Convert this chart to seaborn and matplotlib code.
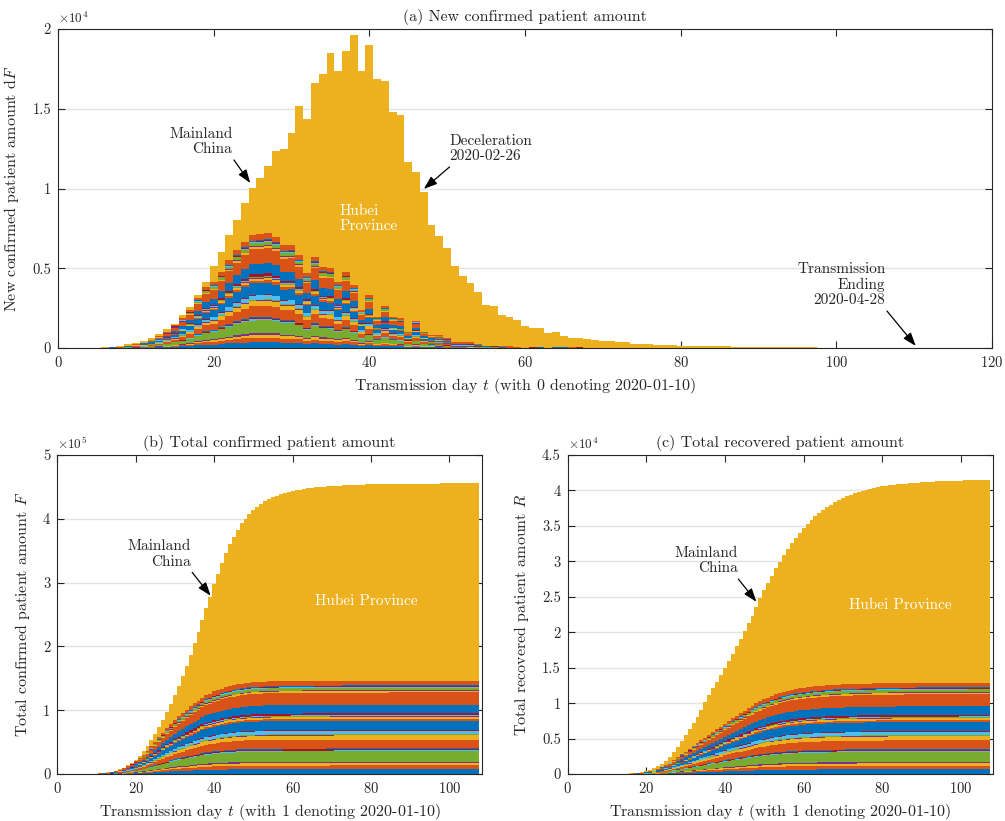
import numpy as np
import pandas as pd
import matplotlib
matplotlib.use("Agg")
import matplotlib.pyplot as plt
import seaborn as sns
from matplotlib.ticker import FixedLocator, FuncFormatter

# ---------------- data ----------------
# (a) daily new confirmed patients, days 0..110 (0 = 2020-01-10)
days_new = list(range(0, 111))
total_new = [0, 5, 8, 12, 18, 25, 40, 60, 125, 230,
             314, 460, 606, 878, 1170, 1526, 2048, 2592, 3344, 4117,
             5162, 6040, 7085, 8047, 9092, 10032, 10659, 11390, 12331, 12477,
             13480, 15194, 14379, 16615, 17200, 18496, 17347, 18600, 19646, 17347,
             18998, 16866, 16762, 14818, 14609, 11662, 11014, 9760, 7691, 7043,
             6270, 5162, 4493, 4075, 3511, 2675, 2612, 2090, 1944, 1735,
             1358, 1254, 1254, 940, 982, 773, 648, 648, 564, 480,
             418, 418, 355, 355, 272, 272, 272, 188, 188, 188,
             146, 146, 146, 146, 104, 104, 104, 80, 75, 70,
             65, 60, 55, 50, 45, 42, 38, 35, 32, 30,
             28, 25, 22, 20, 18, 15, 12, 10, 8, 5, 3]
others_new = [0, 4, 6, 9, 13, 18, 30, 45, 95, 180,
              260, 390, 520, 750, 1020, 1440, 1860, 2380, 3150, 3850,
              4150, 4790, 5500, 6140, 6670, 7100, 7120, 7200, 6980, 6430,
              6450, 5840, 4680, 5730, 5060, 5000, 4160, 4790, 3960, 2390,
              3300, 1970, 2620, 1960, 1870, 1010, 1720, 1000, 820, 790,
              600, 360, 360, 350, 230, 180, 150, 120, 100, 90,
              80, 70, 60, 55, 50, 45, 40, 35, 30, 28,
              25, 22, 20, 18, 15, 12, 10, 9, 8, 7,
              6, 5, 5, 4, 4, 3, 3, 2, 2, 2,
              1, 1, 1, 1, 1, 0, 0, 0, 0, 0,
              0, 0, 0, 0, 0, 0, 0, 0, 0, 0, 0]

# (b)/(c) days 1..107 (1 = 2020-01-10)
days_cum = list(range(1, 108))
total_rec = [0, 0, 0, 0, 0, 2, 3, 5, 8, 12,
             18, 25, 35, 50, 70, 100, 140, 200, 290, 420,
             600, 830, 1100, 1450, 1900, 2400, 3100, 3850, 4650, 5450,
             6300, 7150, 8080, 9100, 10100, 11130, 12080, 13020, 13960, 15000,
             16000, 17000, 18000, 19050, 20200, 21250, 22300, 23500, 24900, 26000,
             27000, 28000, 29000, 29950, 30900, 31800, 32600, 33350, 34050, 34700,
             35300, 35850, 36350, 36800, 37200, 37600, 37950, 38300, 38600, 38900,
             39150, 39400, 39600, 39800, 39950, 40100, 40230, 40350, 40460, 40560,
             40650, 40730, 40800, 40860, 40920, 40970, 41020, 41070, 41110, 41150,
             41190, 41220, 41250, 41280, 41300, 41320, 41340, 41360, 41380, 41400,
             41420, 41440, 41450, 41460, 41470, 41480, 41490]
others_rec = [0, 0, 0, 0, 0, 1, 2, 3, 5, 8,
              12, 17, 25, 35, 45, 65, 95, 140, 210, 310,
              430, 570, 750, 980, 1250, 1600, 2000, 2400, 2780, 3150,
              3550, 3950, 4350, 4750, 5100, 5500, 5900, 6300, 6700, 7100,
              7500, 7880, 8250, 8600, 8950, 9300, 9620, 9950, 10250, 10520,
              10780, 11020, 11230, 11420, 11600, 11760, 11890, 12000, 12100, 12180,
              12250, 12310, 12370, 12420, 12470, 12510, 12550, 12580, 12610, 12640,
              12660, 12680, 12700, 12720, 12740, 12755, 12770, 12785, 12800, 12810,
              12820, 12830, 12840, 12850, 12855, 12860, 12865, 12870, 12875, 12880,
              12882, 12884, 12886, 12888, 12890, 12892, 12894, 12895, 12896, 12897,
              12898, 12899, 12900, 12900, 12900, 12900, 12900]

# relative sizes of the 30 other provinces (bottom -> top of the stack)
province_share = [6.5, 5.0, 3.2, 1.8, 14.0, 1.2, 1.5, 1.2, 12.0, 5.5,
                  0.8, 1.0, 4.5, 1.0, 12.5, 2.5, 2.5, 0.8, 0.8, 0.8,
                  2.6, 11.5, 16.5, 2.0, 1.0, 3.5, 1.0, 0.8, 1.2, 6.5]
province_names = [f"Province {i + 1:02d}" for i in range(30)]
matlab_colors = ["#0072BD", "#D95319", "#EDB120", "#7E2F8E",
                 "#77AC30", "#4DBEEE", "#A2142F"]

# ---------------- style ----------------
sns.set_style("ticks")
plt.rcParams.update({
    "font.family": "serif",
    "font.serif": ["cmr10"],
    "mathtext.fontset": "cm",
    "axes.unicode_minus": False,
    "axes.formatter.use_mathtext": True,
})

share = np.array(province_share) / np.sum(province_share)
hue_order = ["Hubei"] + province_names[::-1]   # first level drawn on top
palette = {"Hubei": "#EDB120"}
for i, n in enumerate(province_names):
    palette[n] = matlab_colors[i % 7]


def long_frame(days, total, others):
    days = np.asarray(days)
    total = np.asarray(total, dtype=float)
    others = np.asarray(others, dtype=float)
    rows = [pd.DataFrame({"day": days, "region": "Hubei", "value": total - others})]
    for n, s in zip(province_names, share):
        rows.append(pd.DataFrame({"day": days, "region": n, "value": others * s}))
    return pd.concat(rows, ignore_index=True)


df_a = long_frame(days_new, total_new, others_new)
cum_total = np.cumsum(total_new)[1:108]
cum_others = np.cumsum(others_new)[1:108]
df_b = long_frame(days_cum, cum_total, cum_others)
df_c = long_frame(days_cum, total_rec, others_rec)

fig = plt.figure(figsize=(10.05, 8.21), dpi=100)
ax_a = fig.add_axes([0.0577, 0.5761, 0.9294, 0.3886])
ax_b = fig.add_axes([0.0570, 0.0572, 0.4226, 0.3886])
ax_c = fig.add_axes([0.5649, 0.0572, 0.4229, 0.3886])

for ax, df in ((ax_a, df_a), (ax_b, df_b), (ax_c, df_c)):
    sns.histplot(data=df, x="day", weights="value", hue="region",
                 hue_order=hue_order, palette=palette, multiple="stack",
                 discrete=True, shrink=1, element="bars", linewidth=0,
                 alpha=1, legend=False, ax=ax)


def style(ax, xmax, xticks, ymax, ystep, scale, exp, title, xlabel, ylabel):
    ax.set_xlim(0, xmax)
    ax.set_ylim(0, ymax)
    ax.xaxis.set_major_locator(FixedLocator(xticks))
    ax.yaxis.set_major_locator(FixedLocator(np.arange(0, ymax + 1, ystep)))
    ax.yaxis.set_major_formatter(FuncFormatter(lambda v, p: f"{v / scale:g}"))
    ax.tick_params(direction="in", top=True, right=True, length=5, width=0.8,
                   labelsize=10.5, colors="#262626", pad=5)
    for sp in ax.spines.values():
        sp.set_visible(True)
        sp.set_color("#262626")
        sp.set_linewidth(0.8)
    ax.set_axisbelow(True)
    ax.yaxis.grid(True, color="#e3e3e3", lw=1)
    ax.xaxis.grid(False)
    ax.set_title(title, fontsize=11.5, pad=6)
    ax.set_xlabel(xlabel, fontsize=11.5, labelpad=4)
    ax.set_ylabel(ylabel, fontsize=11.5, labelpad=8)
    ax.text(0.0, 1.008, r"$\times 10^{%d}$" % exp, transform=ax.transAxes,
            ha="left", va="bottom", fontsize=9.5)


style(ax_a, 120, range(0, 121, 20), 20000, 5000, 1e4, 4,
      "(a) New confirmed patient amount",
      r"Transmission day $t$ (with 0 denoting 2020-01-10)",
      r"New confirmed patient amount d$F$")
style(ax_b, 108.3, range(0, 101, 20), 500000, 100000, 1e5, 5,
      "(b) Total confirmed patient amount",
      r"Transmission day $t$ (with 1 denoting 2020-01-10)",
      r"Total confirmed patient amount $F$")
style(ax_c, 108.1, range(0, 101, 20), 45000, 5000, 1e4, 4,
      "(c) Total recovered patient amount",
      r"Transmission day $t$ (with 1 denoting 2020-01-10)",
      r"Total recovered patient amount $R$")

arrow = dict(arrowstyle="-|>,head_length=0.45,head_width=0.16", color="black",
             lw=0.9, mutation_scale=18, shrinkA=0, shrinkB=0)
fs = 11

# (a)
ax_a.text(22.4, 12950, "Mainland\nChina", ha="right", va="center", fontsize=fs,
          multialignment="right", linespacing=1.15)
ax_a.annotate("", xy=(24.7, 10345), xytext=(22.6, 11790), arrowprops=arrow)
ax_a.text(50.3, 12510, "Deceleration\n2020-02-26", ha="left", va="center",
          fontsize=fs, linespacing=1.15)
ax_a.annotate("", xy=(47.0, 9970), xytext=(50.3, 11350), arrowprops=arrow)
ax_a.text(36.2, 8120, "Hubei\nProvince", ha="left", va="center", fontsize=fs,
          color="white", linespacing=1.15)
ax_a.text(106.3, 3950, "Transmission\nEnding\n2020-04-28", ha="right",
          va="center", fontsize=fs, multialignment="right", linespacing=1.15)
ax_a.annotate("", xy=(110.2, 130), xytext=(106.5, 2320), arrowprops=arrow)

# (b)
ax_b.text(34.1, 344800, "Mainland\nChina", ha="right", va="center", fontsize=fs,
          multialignment="right", linespacing=1.15)
ax_b.annotate("", xy=(39.1, 279500), xytext=(34.4, 316000), arrowprops=arrow)
ax_b.text(78.9, 271000, "Hubei Province", ha="center", va="center",
          fontsize=fs, color="white")

# (c)
ax_c.text(43.3, 30100, "Mainland\nChina", ha="right", va="center", fontsize=fs,
          multialignment="right", linespacing=1.15)
ax_c.annotate("", xy=(48.0, 24300), xytext=(43.4, 27500), arrowprops=arrow)
ax_c.text(84.5, 23800, "Hubei Province", ha="center", va="center",
          fontsize=fs, color="white")

fig.savefig("out.png", dpi=100)
